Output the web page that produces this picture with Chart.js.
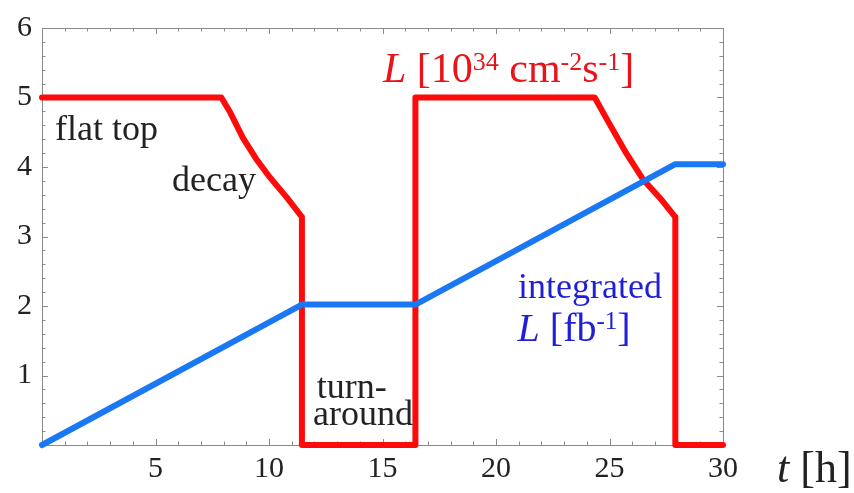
<!DOCTYPE html>
<html>
<head>
<meta charset="utf-8">
<script src="https://cdn.jsdelivr.net/npm/chart.js@4"></script>
<style>
html,body{margin:0;padding:0;background:#fff;}
#wrap{width:854px;height:493px;}
</style>
</head>
<body>
<div id="wrap"><canvas id="c" width="854" height="493"></canvas></div>
<script>
// ---- data ----
const lumiTime = [0, 7.9, 8.3, 8.85, 9.47, 10.04, 10.79, 11.45, 11.45, 16.45, 16.45, 24.35, 24.93, 25.68, 26.48, 27.31, 27.9, 27.9, 30];
const lumiValue = [5, 5, 4.78, 4.42, 4.10, 3.85, 3.56, 3.28, 0, 0, 5, 5, 4.66, 4.23, 3.82, 3.52, 3.28, 0, 0];
const intTime = [0, 11.45, 16.45, 27.9, 30];
const intValue = [0, 2.02, 2.02, 4.04, 4.04];
const xTickLabels = [5, 10, 15, 20, 25, 30];
const yTickLabels = [1, 2, 3, 4, 5, 6];

const SERIF = '"Liberation Serif", "DejaVu Serif", serif';
const lumiPts = lumiTime.map((t, i) => ({x: t, y: lumiValue[i]}));
const intPts = intTime.map((t, i) => ({x: t, y: intValue[i]}));

function drawRich(ctx, parts, x, y, size, color) {
  ctx.fillStyle = color;
  ctx.textBaseline = 'alphabetic';
  ctx.textAlign = 'left';
  let cx = x;
  for (const p of parts) {
    const fs = p.sup ? Math.round(size * 0.62) : size;
    ctx.font = (p.italic ? 'italic ' : '') + fs + 'px ' + SERIF;
    const dy = p.sup ? -size * 0.29 : 0;
    ctx.fillText(p.text, cx, y + dy);
    cx += ctx.measureText(p.text).width;
  }
}

const framePlugin = {
  id: 'frame',
  beforeDatasetsDraw(chart) {
    const {ctx, chartArea: a, scales: {x, y}} = chart;
    ctx.save();
    ctx.strokeStyle = '#8a8a8a';
    ctx.lineWidth = 1;
    ctx.strokeRect(a.left + 0.5, a.top + 0.5, a.right - a.left, a.bottom - a.top);
    ctx.beginPath();
    for (let t = 1; t < 30; t++) {
      const px = Math.round(x.getPixelForValue(t)) + 0.5;
      const len = (t % 5 === 0) ? 6 : 3.5;
      ctx.moveTo(px, a.bottom); ctx.lineTo(px, a.bottom - len);
      ctx.moveTo(px, a.top); ctx.lineTo(px, a.top + len);
    }
    for (let k = 1; k < 30; k++) {
      const v = k * 0.2;
      const py = Math.round(y.getPixelForValue(v)) + 0.5;
      const len = (k % 5 === 0) ? 6 : 3.5;
      ctx.moveTo(a.left, py); ctx.lineTo(a.left + len, py);
      ctx.moveTo(a.right, py); ctx.lineTo(a.right - len, py);
    }
    ctx.stroke();
    ctx.restore();
  },
  afterDatasetsDraw(chart) {
    const {ctx, chartArea: a, scales: {x, y}} = chart;
    ctx.save();
    const S = 36;
    drawRich(ctx, [{text: 'flat top'}], x.getPixelForValue(0.57), y.getPixelForValue(4.39), S, '#222');
    drawRich(ctx, [{text: 'decay'}], x.getPixelForValue(5.73), y.getPixelForValue(3.66), S, '#222');
    drawRich(ctx, [{text: 'turn-'}], x.getPixelForValue(12.1), y.getPixelForValue(0.68), S, '#222');
    drawRich(ctx, [{text: 'around'}], x.getPixelForValue(11.94), y.getPixelForValue(0.285), S, '#222');
    drawRich(ctx, [{text: 'integrated'}], x.getPixelForValue(20.97), y.getPixelForValue(2.12), S, '#1f1fd6');
    drawRich(ctx, [{text: 'L', italic: true}, {text: ' [fb'}, {text: '-1', sup: true}, {text: ']'}],
      x.getPixelForValue(20.95), y.getPixelForValue(1.5), 40, '#1f1fd6');
    drawRich(ctx, [{text: 'L', italic: true}, {text: ' [10'}, {text: '34', sup: true}, {text: ' cm'},
      {text: '-2', sup: true}, {text: 's'}, {text: '-1', sup: true}, {text: ']'}],
      x.getPixelForValue(15.02), y.getPixelForValue(5.22), 42, '#e8141a');
    drawRich(ctx, [{text: 't', italic: true}, {text: ' [h]'}], a.right + 54, a.bottom + 37, 44, '#222');
    ctx.restore();
  }
};

new Chart(document.getElementById('c'), {
  type: 'line',
  data: {
    datasets: [
      {label: 'integrated L', data: intPts, borderColor: '#1a78f5', borderWidth: 6,
       pointRadius: 0, tension: 0, clip: false, borderCapStyle: 'round', borderJoinStyle: 'round'},
      {label: 'L', data: lumiPts, borderColor: '#ff0a0a', borderWidth: 6,
       pointRadius: 0, tension: 0, clip: false, borderCapStyle: 'round', borderJoinStyle: 'round'}
    ]
  },
  options: {
    responsive: false,
    animation: false,
    devicePixelRatio: 1,
    layout: {padding: {top: 24, right: 131, left: 0, bottom: 0}},
    plugins: {legend: {display: false}, tooltip: {enabled: false}},
    scales: {
      x: {
        type: 'linear', min: 0, max: 30,
        afterBuildTicks: (s) => { s.ticks = [0].concat(xTickLabels).map(v => ({value: v})); },
        afterFit: (s) => { s.height = 48; },
        grid: {display: false, drawTicks: false},
        border: {display: false},
        ticks: {
          padding: 6, color: '#222', maxRotation: 0, autoSkip: false,
          font: {family: SERIF, size: 30},
          callback: (v) => xTickLabels.includes(v) ? String(v) : ''
        }
      },
      y: {
        type: 'linear', min: 0, max: 6,
        afterBuildTicks: (s) => { s.ticks = [0].concat(yTickLabels).map(v => ({value: v})); },
        afterFit: (s) => { s.width = 42; },
        grid: {display: false, drawTicks: false},
        border: {display: false},
        ticks: {
          padding: 10, color: '#222', autoSkip: false,
          font: {family: SERIF, size: 30},
          callback: (v) => yTickLabels.includes(v) ? String(v) : ''
        }
      }
    }
  },
  plugins: [framePlugin]
});
</script>
</body>
</html>
